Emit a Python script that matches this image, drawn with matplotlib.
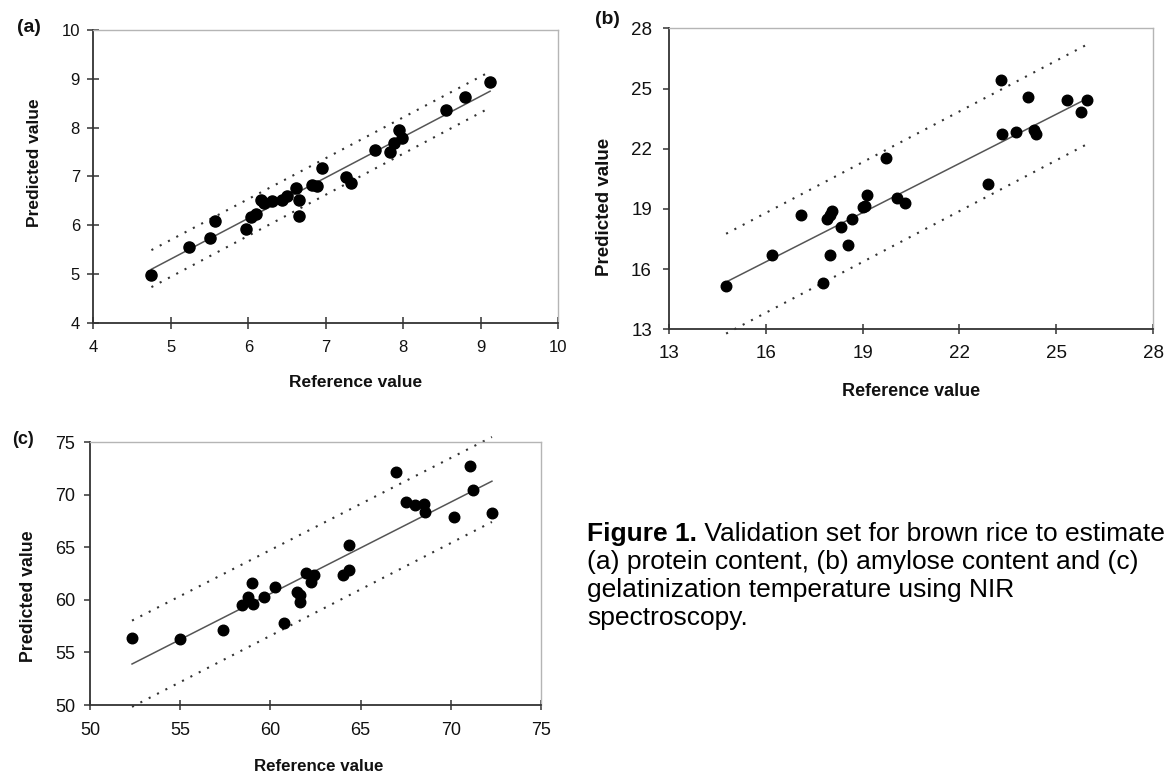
import matplotlib
matplotlib.use("Agg")
import matplotlib.pyplot as plt
import numpy as np

plt.rcParams['font.family'] = ['Liberation Sans', 'DejaVu Sans']

# ---------------- data ----------------
# (a) protein content
a_ref = [4.75, 5.23, 5.51, 5.57, 5.97, 6.04, 6.10, 6.17, 6.20, 6.30, 6.44, 6.50, 6.62, 6.65,
         6.65, 6.82, 6.88, 6.95, 7.26, 7.33, 7.64, 7.83, 7.88, 7.98, 7.95, 8.55, 8.80, 9.12]
a_pred = [4.98, 5.55, 5.74, 6.09, 5.92, 6.17, 6.22, 6.52, 6.45, 6.50, 6.52, 6.60, 6.76, 6.52,
          6.19, 6.82, 6.80, 7.17, 6.99, 6.87, 7.54, 7.49, 7.69, 7.78, 7.94, 8.36, 8.63, 8.94]
a_fit = (0.835, 1.13)      # slope, intercept
a_upper = (0.8375, 1.51)
a_lower = (0.842, 0.73)
a_ticks = [4, 5, 6, 7, 8, 9, 10]

# (b) amylose content
b_ref = [14.77, 16.19, 17.09, 17.78, 17.90, 17.98, 18.04, 18.00, 18.33, 18.54, 18.68, 19.02,
         19.08, 19.15, 19.73, 20.08, 20.30, 22.88, 23.28, 23.31, 23.75, 24.12, 24.32, 24.36,
         25.34, 25.76, 25.97]
b_pred = [15.16, 16.72, 18.68, 15.33, 18.48, 16.72, 18.90, 18.70, 18.10, 17.19, 18.48, 19.09,
          19.14, 19.67, 21.52, 19.53, 19.31, 20.22, 25.42, 22.71, 22.85, 24.59, 22.92, 22.75,
          24.42, 23.82, 24.45]
b_fit = (0.817, 3.29)
b_upper = (0.843, 5.31)
b_lower = (0.844, 0.32)
b_ticks = [13, 16, 19, 22, 25, 28]

# (c) gelatinization temperature
c_ref = [52.33, 55.00, 57.35, 58.44, 58.75, 58.96, 59.02, 59.65, 60.25, 60.73, 61.46, 61.63,
         61.63, 62.00, 62.25, 62.42, 64.00, 64.35, 64.35, 66.95, 67.50, 68.00, 68.50, 68.55,
         70.20, 71.05, 71.23, 72.28]
c_pred = [56.35, 56.26, 57.14, 59.52, 60.31, 61.58, 59.62, 60.31, 61.26, 57.84, 60.73, 60.47,
          59.83, 62.53, 61.70, 62.37, 62.33, 62.85, 65.23, 72.15, 69.35, 69.00, 69.10, 68.40,
          67.86, 72.75, 70.46, 68.24]
c_fit = (0.872, 8.27)
c_upper = (0.876, 12.19)
c_lower = (0.882, 3.67)
c_ticks = [50, 55, 60, 65, 70, 75]

caption_bold = "Figure 1."
caption_lines = [" Validation set for brown rice to estimate",
                 "(a) protein content, (b) amylose content and (c)",
                 "gelatinization temperature using NIR",
                 "spectroscopy."]

# ---------------- figure ----------------
W, H = 1166, 776
fig = plt.figure(figsize=(W / 100, H / 100), dpi=100)


def px_rect(left, right, top, bottom):
    return [left / W, (H - bottom) / H, (right - left) / W, (bottom - top) / H]


panels = [
    dict(rect=px_rect(93.3, 558.3, 30, 322.7), ref=a_ref, pred=a_pred, fit=a_fit,
         up=a_upper, lo=a_lower, ticks=a_ticks, tag="(a)", tagpos=(17, 28), tagsize=14,
         ticksize=12, ylsize=12.5, xlsize=12.5, ylab=(-0.1265, 0.546), xlab=(0.565, -0.206),
         ydir='inout', ylen=8.6, ypad=5.3, xlen=8.4, xpad=8.5, ms=8),
    dict(rect=px_rect(669, 1153, 28.3, 329.3), ref=b_ref, pred=b_pred, fit=b_fit,
         up=b_upper, lo=b_lower, ticks=b_ticks, tag="(b)", tagpos=(595, 20), tagsize=14,
         ticksize=13.5, ylsize=13.5, xlsize=13, ylab=(-0.134, 0.406), xlab=(0.501, -0.205),
         ydir='out', ylen=4.3, ypad=8, xlen=7.2, xpad=8, ms=7.6),
    dict(rect=px_rect(90, 541, 442.3, 705), ref=c_ref, pred=c_pred, fit=c_fit,
         up=c_upper, lo=c_lower, ticks=c_ticks, tag="(c)", tagpos=(12, 439), tagsize=13,
         ticksize=13, ylsize=12.8, xlsize=12.2, ylab=(-0.136, 0.415), xlab=(0.506, -0.236),
         ydir='out', ylen=4.3, ypad=6.5, xlen=7.2, xpad=8.8, ms=7.6),
]

for p in panels:
    ax = fig.add_axes(p['rect'])
    ref = np.array(p['ref'])
    pred = np.array(p['pred'])
    xs = np.array([ref.min(), ref.max()])
    ax.plot(xs, p['fit'][0] * xs + p['fit'][1], color='#555555', lw=1.1, zorder=2)
    for s, b in (p['up'], p['lo']):
        ax.plot(xs, s * xs + b, color='#333333', lw=1.5, linestyle=(0, (1, 3.5)),
                clip_on=False, zorder=2)
    ax.plot(ref, pred, 'o', color='black', ms=p['ms'], mec='black', zorder=3,
            clip_on=False)
    t = p['ticks']
    ax.set_xlim(t[0], t[-1])
    ax.set_ylim(t[0], t[-1])
    ax.set_xticks(t)
    ax.set_yticks(t)
    ax.tick_params(axis='y', direction=p['ydir'], length=p['ylen'], width=1.1,
                   pad=p['ypad'], labelsize=p['ticksize'], color='#333333',
                   labelcolor='#111111')
    ax.tick_params(axis='x', direction='inout', length=p['xlen'], width=1.1,
                   pad=p['xpad'], labelsize=p['ticksize'], color='#333333',
                   labelcolor='#111111')
    for side in ('left', 'bottom'):
        ax.spines[side].set_color('#333333')
        ax.spines[side].set_linewidth(1.3)
    for side in ('top', 'right'):
        ax.spines[side].set_color('#b5b5b5')
        ax.spines[side].set_linewidth(1.0)

    ax.set_ylabel("Predicted value", fontsize=p['ylsize'], fontweight='bold',
                  color='#111111')
    ax.yaxis.set_label_coords(*p['ylab'])
    ax.yaxis.label.set(va='center', ha='center')
    ax.set_xlabel("Reference value", fontsize=p['xlsize'], fontweight='bold',
                  color='#111111')
    ax.xaxis.set_label_coords(*p['xlab'])
    ax.xaxis.label.set(va='center', ha='center')

    fig.text(p['tagpos'][0] / W, 1 - p['tagpos'][1] / H, p['tag'], fontsize=p['tagsize'],
             fontweight='bold', ha='left', va='center', color='#111111')

# ---------------- caption ----------------
cap_x = 587
cap_base = [541, 569, 597, 625]
cap_fs = 19
renderer = fig.canvas.get_renderer()
tb = fig.text(cap_x / W, 1 - cap_base[0] / H, caption_bold, fontsize=cap_fs,
              fontweight='bold', ha='left', va='baseline', color='black')
bb = tb.get_window_extent(renderer)
fig.text(bb.x1 / W, 1 - cap_base[0] / H, caption_lines[0], fontsize=cap_fs, ha='left',
         va='baseline', color='black')
for line, yy in zip(caption_lines[1:], cap_base[1:]):
    fig.text(cap_x / W, 1 - yy / H, line, fontsize=cap_fs, ha='left', va='baseline',
             color='black')

fig.savefig("out.png", dpi=100)
